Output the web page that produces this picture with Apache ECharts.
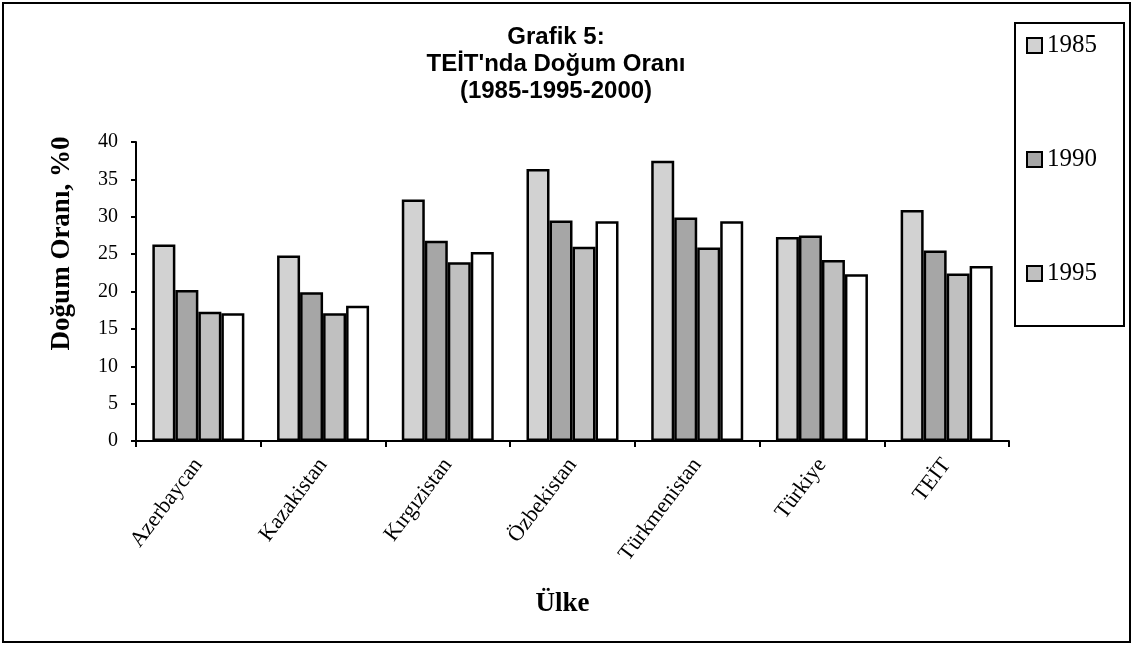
<!DOCTYPE html>
<html>
<head>
<meta charset="utf-8">
<script src="https://cdn.jsdelivr.net/npm/echarts@6/dist/echarts.min.js"></script>
<style>html,body{margin:0;padding:0;background:#fff}#c{width:1133px;height:646px}</style>
</head>
<body>
<div id="c"></div>
<script>
const categories = ['Azerbaycan', 'Kazakistan', 'Kırgızistan', 'Özbekistan', 'Türkmenistan', 'Türkiye', 'TEİT'];
const s1985 = [26.3, 24.8, 32.3, 36.4, 37.5, 27.3, 30.9];
const s1990 = [20.2, 19.9, 26.8, 29.5, 29.9, 27.5, 25.5];
const s1995 = [17.3, 17.1, 23.9, 26.0, 25.9, 24.2, 22.4];
const s2000 = [17.1, 18.1, 25.3, 29.4, 29.4, 22.3, 23.4];
const legendNames = ['1985', '1990', '1995'];
const yTicks = [0, 5, 10, 15, 20, 25, 30, 35, 40];

const serif = '"Liberation Serif", "Times New Roman", serif';
const sans = '"Liberation Sans", Arial, sans-serif';

function bar(name, data, color) {
  return {
    name: name, type: 'bar', data: data,
    barWidth: 23, barGap: '0%',
    itemStyle: { color: color, borderColor: '#000', borderWidth: 2.5 },
    emphasis: { disabled: true }
  };
}

const chart = echarts.init(document.getElementById('c'), null, { renderer: 'canvas' });
chart.setOption({
  animation: false,
  backgroundColor: '#fff',
  title: {
    text: "Grafik 5:\nTEİT'nda Doğum Oranı\n(1985-1995-2000)",
    left: 551, top: 19, textAlign: 'center',
    textStyle: { fontFamily: sans, fontSize: 24, fontWeight: 'bold', color: '#000', lineHeight: 27 }
  },
  legend: {
    data: legendNames,
    orient: 'vertical',
    icon: 'rect',
    left: 1015, top: 23,
    padding: [10, 27, 40, 11],
    itemGap: 89, itemWidth: 15, itemHeight: 15,
    borderColor: '#000', borderWidth: 2,
    textStyle: { fontFamily: serif, fontSize: 25, color: '#000', lineHeight: 25 }
  },
  grid: { left: 136, right: 124, top: 142, bottom: 205 },
  xAxis: {
    type: 'category', data: categories,
    name: 'Ülke', nameLocation: 'middle', nameGap: 150,
    nameTextStyle: { fontFamily: serif, fontSize: 27, fontWeight: 'bold', color: '#000', padding: [0, 20, 0, 0] },
    axisLine: { lineStyle: { color: '#000', width: 2 } },
    axisTick: { show: true, length: 6, lineStyle: { color: '#000', width: 2 } },
    axisLabel: { rotate: 53, margin: 20, fontFamily: serif, fontSize: 22, color: '#000' }
  },
  yAxis: {
    type: 'value', min: 0, max: 40, interval: 5,
    name: 'Doğum Oranı, %0', nameLocation: 'middle', nameGap: 60,
    nameTextStyle: { fontFamily: serif, fontSize: 27, fontWeight: 'bold', color: '#000', padding: [0, 0, 0, 96] },
    axisLine: { show: true, lineStyle: { color: '#000', width: 2 } },
    axisTick: { show: true, length: 5, lineStyle: { color: '#000', width: 2 } },
    splitLine: { show: false },
    axisLabel: { margin: 18, fontFamily: serif, fontSize: 20, color: '#000',
      formatter: function (v) { return yTicks.indexOf(v) >= 0 ? String(v) : ''; } }
  },
  graphic: [{
    type: 'rect', shape: { x: 3, y: 3, width: 1127, height: 639 },
    style: { fill: 'none', stroke: '#000', lineWidth: 2 }, silent: true
  }],
  series: [
    bar('1985', s1985, '#d2d2d2'),
    bar('1990', s1990, '#a6a6a6'),
    bar('1995', s1995, '#c0c0c0'),
    bar('2000', s2000, '#ffffff')
  ]
});
</script>
</body>
</html>
